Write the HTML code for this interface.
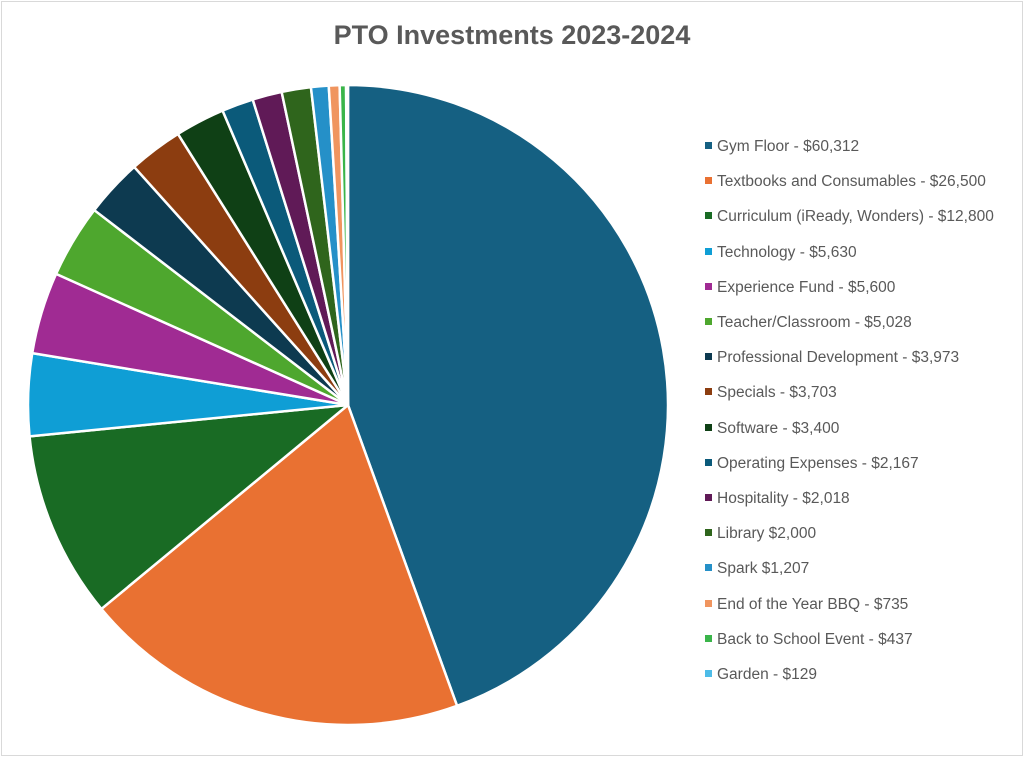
<!DOCTYPE html>
<html><head><style>
body{margin:0;background:#fff;width:1024px;height:757px;overflow:hidden;font-family:"Liberation Sans",sans-serif;}
.frame{position:absolute;left:1px;top:1px;width:1020px;height:753px;border:1px solid #d9d9d9;}
h1{position:absolute;left:0;width:1024px;top:20px;margin:0;text-align:center;font-size:27px;font-weight:bold;color:#595959;}
.lg{position:absolute;left:705px;font-size:15.5px;color:#595959;line-height:16px;white-space:nowrap;}
.lg i{display:inline-block;width:7px;height:7px;margin-right:5px;vertical-align:2px;}
</style></head><body>
<div class="frame"></div>
<h1>PTO Investments 2023-2024</h1>
<svg id="pie" width="1024" height="757" style="position:absolute;left:0;top:0"></svg>
<div id="leg"></div>
<script>
var d=[["Gym Floor - $60,312",60312,"#156082"],["Textbooks and Consumables - $26,500",26500,"#e97132"],["Curriculum (iReady, Wonders) - $12,800",12800,"#196b24"],["Technology - $5,630",5630,"#0f9ed5"],["Experience Fund - $5,600",5600,"#a02b93"],["Teacher/Classroom - $5,028",5028,"#4ea72e"],["Professional Development - $3,973",3973,"#0d3a50"],["Specials - $3,703",3703,"#8c3d10"],["Software - $3,400",3400,"#0f4015"],["Operating Expenses - $2,167",2167,"#0b5a7a"],["Hospitality - $2,018",2018,"#601a57"],["Library $2,000",2000,"#2f651c"],["Spark $1,207",1207,"#2590c8"],["End of the Year BBQ - $735",735,"#f0955f"],["Back to School Event - $437",437,"#3ab54a"],["Garden - $129",129,"#4dbce8"]];
var tot=0;d.forEach(function(e){tot+=e[1]});
var cx=348,cy=405,r=320,a=0,s="",L="";
d.forEach(function(e,i){var b=a+e[1]/tot*2*Math.PI;
var x1=cx+r*Math.sin(a),y1=cy-r*Math.cos(a),x2=cx+r*Math.sin(b),y2=cy-r*Math.cos(b);
s+='<path d="M'+cx+','+cy+'L'+x1+','+y1+'A'+r+','+r+' 0 '+((b-a)>Math.PI?1:0)+' 1 '+x2+','+y2+'Z" fill="'+e[2]+'" stroke="#fff" stroke-width="2.5" stroke-linejoin="round"/>';
a=b;
L+='<div class="lg" style="top:'+(139+i*35.2)+'px"><i style="background:'+e[2]+'"></i>'+e[0]+'</div>';});
document.getElementById("pie").innerHTML=s;document.getElementById("leg").innerHTML=L;
</script>
</body></html>
